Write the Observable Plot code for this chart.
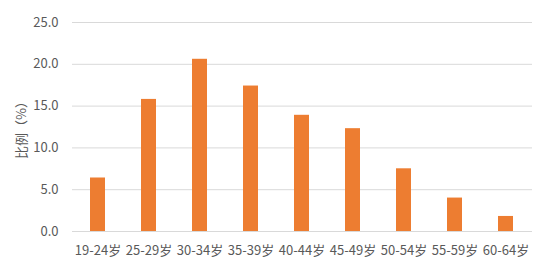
<!DOCTYPE html>
<html><head><meta charset="utf-8">
<script src="https://cdn.jsdelivr.net/npm/d3@7"></script>
<script src="https://cdn.jsdelivr.net/npm/@observablehq/plot@0.6"></script>
<style>body{margin:0;background:#fff;} svg{display:block;}</style>
</head><body><div id="chart"></div>
<script>
const categories = ["19-24岁","25-29岁","30-34岁","35-39岁","40-44岁","45-49岁","50-54岁","55-59岁","60-64岁"];
const values = [6.4, 15.8, 20.6, 17.4, 13.9, 12.3, 7.5, 4.0, 1.8];
const yTicks = [0, 5, 10, 15, 20, 25];
const yLabel = "比例（%）";

const data = categories.map((c, i) => ({cat: c, v: values[i]}));
const font = "'Noto Sans CJK SC', 'Noto Sans', sans-serif";

const chart = Plot.plot({
  width: 552, height: 267,
  marginTop: 22, marginBottom: 36, marginLeft: 72, marginRight: 20,
  style: {fontFamily: font, fontSize: "13px", color: "#595959", background: "#fff"},
  x: {domain: categories, paddingInner: 0.7, paddingOuter: 0.35, label: null},
  y: {domain: [0, 25], label: null},
  marks: [
    Plot.ruleY(yTicks, {stroke: "#d9d9d9", strokeWidth: 1}),
    Plot.barY(data, {x: "cat", y: "v", fill: "#ED7D31"}),
    Plot.axisX({tickSize: 0, tickPadding: 14, fontSize: 13}),
    Plot.axisY({ticks: yTicks, tickSize: 0, tickPadding: 14, tickFormat: d => d.toFixed(1), fontSize: 13,
      label: yLabel, labelAnchor: "center", labelOffset: 56, labelArrow: "none"})
  ]
});
document.getElementById("chart").appendChild(chart);
</script></body></html>
